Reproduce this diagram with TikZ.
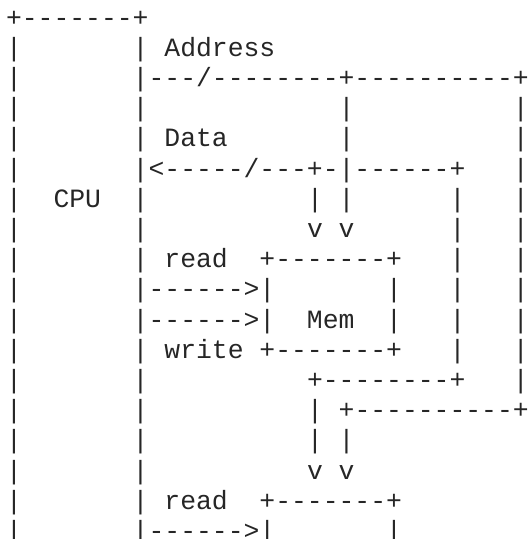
\documentclass[tikz,border=0pt]{standalone}
\usepackage{fontspec}
\newfontfamily\asciifont{Liberation Mono}
\tikzset{
	asciirow/.style={anchor=base west, inner sep=0pt, outer sep=0pt,
		font=\asciifont\fontsize{26.4pt}{30.2pt}\selectfont, text=black!85}
}

\begin{document}
\begin{tikzpicture}[x=1pt, y=1pt, line cap=round, line join=round]

\useasboundingbox (0,0) rectangle (529,-539);

%========================
% CPU box and buses
%========================
\node[asciirow] (row0)  at (6,-26.0)  {+-------+};
\node[asciirow] (row1)  at (6,-56.2)  {|~~~~~~~|~Address};
\node[asciirow] (row2)  at (6,-86.4)  {|~~~~~~~|---/--------+----------+};
\node[asciirow] (row3)  at (6,-116.6) {|~~~~~~~|~~~~~~~~~~~~|~~~~~~~~~~|};
\node[asciirow] (row4)  at (6,-146.8) {|~~~~~~~|~Data~~~~~~~|~~~~~~~~~~|};
\node[asciirow] (row5)  at (6,-177.0) {|~~~~~~~|<-----/---+-|------+~~~|};
\node[asciirow] (row6)  at (6,-207.2) {|~~CPU~~|~~~~~~~~~~|~|~~~~~~|~~~|};
\node[asciirow] (row7)  at (6,-237.4) {|~~~~~~~|~~~~~~~~~~v~v~~~~~~|~~~|};

%========================
% first Mem
%========================
\node[asciirow] (row8)  at (6,-267.6) {|~~~~~~~|~read~~+-------+~~~|~~~|};
\node[asciirow] (row9)  at (6,-297.8) {|~~~~~~~|------>|~~~~~~~|~~~|~~~|};
\node[asciirow] (row10) at (6,-328.0) {|~~~~~~~|------>|~~Mem~~|~~~|~~~|};
\node[asciirow] (row11) at (6,-358.2) {|~~~~~~~|~write~+-------+~~~|~~~|};
\node[asciirow] (row12) at (6,-388.4) {|~~~~~~~|~~~~~~~~~~+--------+~~~|};
\node[asciirow] (row13) at (6,-418.6) {|~~~~~~~|~~~~~~~~~~|~+----------+};
\node[asciirow] (row14) at (6,-448.8) {|~~~~~~~|~~~~~~~~~~|~|};
\node[asciirow] (row15) at (6,-479.0) {|~~~~~~~|~~~~~~~~~~v~v};

%========================
% second Mem (cut off)
%========================
\node[asciirow] (row16) at (6,-509.2) {|~~~~~~~|~read~~+-------+};
\node[asciirow] (row17) at (6,-539.4) {|~~~~~~~|------>|~~~~~~~|};

\end{tikzpicture}
\end{document}
